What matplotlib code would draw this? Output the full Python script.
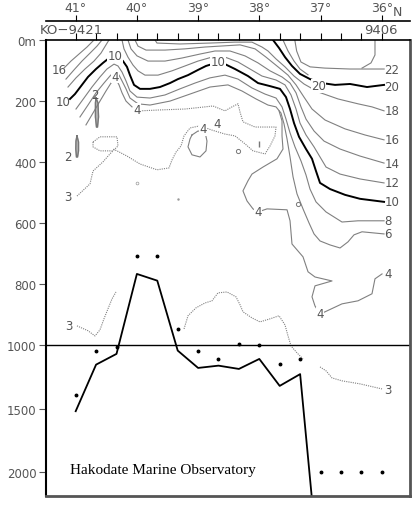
import matplotlib
matplotlib.use("Agg")
import matplotlib.pyplot as plt
import numpy as np

# stations KO-9421 ... KO-9406 (every 1/3 degree of latitude)
station_lat = [41.0, 40.667, 40.333, 40.0, 39.667, 39.333, 39.0, 38.667,
               38.333, 38.0, 37.667, 37.333, 37.0, 36.667, 36.333, 36.0]
obs_depth = [1393, 1046, 1009, 706, 706, 947, 1046, 1107,
             996, 999, 1146, 1107, 2000, 2000, 2000, 2000]
bottom_lat = station_lat[:13]
bottom_depth = [1520, 1152, 1067, 766, 788, 1041, 1178, 1160, 1186, 1107, 1320, 1227, 2930]

lat_ticks = [41, 40, 39, 38, 37, 36]
lat_labels = ['41°', '40°', '39°', '38°', '37°', '36°']
depth_ticks = [0, 200, 400, 600, 800, 1000, 1500, 2000]
depth_labels = ['0m', '200', '400', '600', '800', '1000', '1500', '2000']

# isotherms (lat, depth)
iso22 = [([37.42, 37.39, 37.32, 37.17, 36.93, 36.52, 36.19, 35.96],
          [0, 36, 72, 88, 92, 95, 95, 95]),
         ([36.11, 36.11, 36.175, 36.322], [0, 49, 75, 92]),
         ([37.613, 37.531, 37.433, 37.335, 37.204], [0, 36, 69, 95, 114])]
iso20 = [([37.776, 37.678, 37.580, 37.466, 37.335, 37.172, 36.976, 36.763, 36.518, 36.240, 35.962],
          [0, 26, 56, 85, 111, 128, 141, 147, 144, 154, 147])]
iso18 = [([39.704, 39.672, 39.296, 38.806, 38.397, 38.120, 37.956, 37.858, 37.727, 37.580,
           37.433, 37.270, 37.041, 36.714, 36.387, 36.159, 35.962],
          [0, 10, 13, 10, 7, 7, 23, 36, 62, 88, 118, 144, 170, 193, 209, 219, 232])]
iso16 = [([41.191, 41.077, 40.946, 40.815, 40.701], [92, 69, 46, 23, 0]),
         ([40.031, 39.982, 39.851, 39.541, 39.214, 38.887, 38.643, 38.315, 38.070, 37.891,
           37.694, 37.531, 37.400, 37.270, 37.139, 36.926, 36.600, 36.273, 35.962],
          [0, 20, 33, 33, 29, 23, 20, 16, 29, 56, 88, 115, 147, 187, 226, 262, 291, 311, 327])]
iso14 = [([41.159, 41.028, 40.897, 40.766, 40.652, 40.570], [128, 98, 69, 43, 20, 0]),
         ([40.146, 40.097, 39.998, 39.819, 39.541, 39.263, 38.969, 38.724, 38.479, 38.234, 38.021,
           37.825, 37.629, 37.498, 37.400, 37.319, 37.237, 37.106, 36.943, 36.681, 36.355, 35.962],
          [0, 29, 52, 69, 69, 59, 46, 36, 36, 52, 75, 101, 121, 141, 173, 219, 259, 298, 331,
           357, 380, 403])]
iso12 = [([41.126, 40.995, 40.848, 40.701, 40.587, 40.505, 40.456], [154, 124, 95, 69, 43, 16, 0]),
         ([40.243, 40.211, 40.146, 40.064, 39.982, 39.868, 39.655, 39.427, 39.214, 39.002, 38.773,
           38.561, 38.348, 38.152, 37.956, 37.727, 37.580, 37.482, 37.400, 37.335, 37.237, 37.106,
           37.008, 36.910, 36.681, 36.355, 35.962],
          [0, 29, 56, 82, 101, 115, 115, 101, 85, 69, 56, 56, 72, 95, 118, 131, 147, 180, 226, 272,
           311, 350, 383, 416, 439, 455, 468])]
iso10 = [([41.093, 41.012, 40.913, 40.799, 40.668, 40.554, 40.472, 40.374, 40.292, 40.227, 40.162,
           40.113, 40.047, 39.949, 39.786, 39.623, 39.459, 39.329, 39.165, 39.002, 38.871, 38.773,
           38.675, 38.561, 38.397, 38.185, 38.021, 37.825, 37.662, 37.564, 37.498, 37.433, 37.351,
           37.237, 37.139, 37.074, 37.008, 36.845, 36.600, 36.355, 35.962],
          [193, 177, 151, 121, 95, 75, 62, 52, 56, 69, 88, 115, 147, 160, 160, 154, 141, 128, 115,
           98, 85, 79, 72, 79, 95, 118, 141, 151, 160, 187, 226, 272, 317, 357, 389, 429, 468, 488,
           507, 520, 530])]
iso8 = [([40.995, 40.864, 40.734, 40.603, 40.489, 40.374, 40.309, 40.243, 40.178, 40.113, 39.998,
          39.786, 39.541, 39.296, 39.051, 38.806, 38.561, 38.348, 38.120, 37.907, 37.727, 37.629,
          37.564, 37.498, 37.417, 37.319, 37.237, 37.172, 37.074, 36.910, 36.649, 36.387, 35.962],
         [226, 190, 154, 121, 95, 79, 85, 105, 134, 167, 187, 190, 180, 160, 141, 124, 115, 128,
          157, 177, 190, 219, 259, 304, 350, 396, 442, 488, 530, 563, 596, 592, 592])]
iso6 = [([40.930, 40.799, 40.668, 40.538, 40.440, 40.358, 40.292, 40.243, 40.178, 40.113, 39.982,
          39.786, 39.459, 39.132, 38.806, 38.512, 38.283, 38.054, 37.858, 37.727, 37.646, 37.596,
          37.547, 37.498, 37.449, 37.384, 37.286, 37.188, 37.106, 37.008, 36.845, 36.681, 36.551,
          36.453, 36.322, 35.962],
         [252, 213, 173, 141, 118, 101, 115, 134, 160, 190, 209, 213, 200, 177, 154, 147, 167, 193,
          213, 219, 239, 275, 324, 383, 448, 504, 553, 599, 635, 658, 671, 681, 661, 638, 628, 635])]
iso4 = [([40.832, 40.717, 40.603, 40.505, 40.423, 40.342, 40.292, 40.243, 40.178, 40.080],
         [278, 239, 200, 167, 141, 128, 147, 173, 200, 219]),
        ([39.100, 39.002, 38.887, 38.855, 38.871, 38.969, 39.100, 39.165, 39.132, 39.100],
         [311, 298, 301, 331, 363, 383, 376, 350, 324, 311]),
        ([37.678, 37.629, 37.629, 37.613, 37.711, 37.940, 38.120, 38.185, 38.267, 38.201, 38.103,
          38.021, 37.874, 37.547, 37.498, 37.466, 37.286, 37.204, 37.090, 36.812, 37.090, 37.139,
          37.090, 37.008, 36.926, 36.649, 36.387, 36.159, 36.110, 35.995],
         [232, 265, 314, 357, 389, 416, 439, 461, 494, 527, 553, 563, 553, 556, 592, 668, 710, 759,
          776, 789, 805, 841, 871, 897, 890, 864, 854, 831, 782, 766])]
iso3 = [([39.949, 39.623, 39.214, 38.887, 38.757, 38.561, 38.446, 38.348, 38.315, 38.267, 38.070,
          37.727, 37.744, 37.825, 37.907, 38.103, 38.234, 38.397, 38.561, 38.773, 38.969, 39.132,
          39.230, 39.279, 39.361, 39.427, 39.476, 39.672, 39.949, 40.162, 40.325, 40.391],
         [232, 229, 226, 219, 216, 232, 219, 209, 236, 268, 285, 285, 314, 347, 373, 363, 340, 314,
          308, 295, 281, 288, 314, 347, 367, 393, 419, 425, 406, 380, 363, 357]),
        ([40.717, 40.603, 40.325, 40.309, 40.391, 40.603, 40.717, 40.717],
         [334, 317, 317, 347, 363, 363, 350, 334]),
        ([40.979, 40.766, 40.717, 40.554, 40.440, 40.391], [511, 471, 429, 399, 373, 363]),
        ([40.979, 40.799, 40.685, 40.603, 40.538, 40.472, 40.407, 40.342],
         [936, 952, 969, 949, 913, 880, 848, 825]),
        ([39.230, 39.165, 39.034, 38.887, 38.773, 38.675, 38.528, 38.381, 38.315, 38.267, 38.120,
          37.989, 37.825, 37.678, 37.580, 37.531, 37.482, 37.384, 37.286],
         [946, 903, 877, 861, 854, 828, 825, 841, 867, 890, 910, 923, 913, 903, 933, 969, 1004,
          1059, 1107]),
        ([37.008, 36.910, 36.812, 36.649, 36.355, 35.995], [1170, 1201, 1257, 1280, 1304, 1344])]
iso2 = [([40.668, 40.636, 40.627, 40.644, 40.660, 40.677, 40.677, 40.668],
         [190, 206, 252, 285, 285, 252, 206, 190]),
        ([40.979, 40.954, 40.954, 40.970, 40.987, 40.998, 40.995, 40.979],
         [314, 334, 363, 383, 383, 357, 331, 314])]

# isotherm labels: text, lat, depth, sits on the line
iso_labels = [('22', 35.832, 95, False), ('20', 35.832, 151, False), ('20', 37.03, 150, True),
              ('18', 35.832, 232, False), ('16', 35.832, 327, False), ('16', 41.273, 98, False),
              ('14', 35.832, 403, False), ('12', 35.832, 468, False), ('10', 35.832, 530, False),
              ('10', 41.208, 203, False), ('10', 40.36, 52, True), ('10', 38.675, 69, True),
              ('8', 35.897, 592, False), ('6', 35.897, 635, False), ('4', 35.897, 763, False),
              ('4', 37.008, 897, True), ('4', 38.021, 563, True), ('4', 38.69, 275, False),
              ('4', 38.92, 291, True), ('4', 39.998, 229, True), ('4', 40.358, 118, True),
              ('2', 40.685, 177, False), ('2', 41.126, 380, False), ('3', 41.126, 514, False),
              ('3', 41.11, 936, False), ('3', 35.897, 1352, False)]

K = 0.4144  # below 1000 m the depth axis is compressed


def fwd(d):
    d = np.asarray(d, dtype=float)
    return np.where(d <= 1000, d, 1000 + (d - 1000) * K)


def inv(v):
    v = np.asarray(v, dtype=float)
    return np.where(v <= 1000, v, 1000 + (v - 1000) / K)


fig = plt.figure(figsize=(4.18, 5.06), dpi=100)
ax = fig.add_axes([46 / 418, 9 / 506, 364 / 418, 456 / 506])
ax.set_yscale('function', functions=(fwd, inv))
ax.set_xlim(41.485, 35.538)
ax.set_ylim(2190, 0)

thin = dict(color='#808080', lw=0.8)
thick = dict(color='black', lw=1.4)
for segs in (iso22, iso18, iso16, iso14, iso12, iso8, iso6, iso4):
    for la, de in segs:
        ax.plot(la, de, **thin)
for segs in (iso20, iso10):
    for la, de in segs:
        ax.plot(la, de, **thick)
for la, de in iso3:
    ax.plot(la, de, color='#808080', lw=0.8, ls=(0, (1, 1)))
for la, de in iso2:
    ax.plot(la, de, color='#777777', lw=1.0)
    ax.fill(la, de, color='#bbbbbb')

# small closed features
ax.plot([38.348, 37.368], [363, 537], 'o', ms=3, mfc='none', mec='#777777', mew=0.7)
ax.plot([38.005], [340], marker='|', ms=4, color='#777777')
ax.plot([39.998], [468], 'o', ms=2, mfc='none', mec='#999999', mew=0.5)
ax.plot([39.329], [520], '.', ms=1.5, color='#999999')

for txt, la, de, on_line in iso_labels:
    kw = dict(facecolor='white', edgecolor='none', pad=0.2) if on_line else None
    ax.text(la, de, txt, fontsize=8.5, color='#555555', ha='center', va='center',
            bbox=kw, zorder=5)

# sea bottom and deepest observations
ax.axhline(1000, color='black', lw=1.0)
ax.plot(bottom_lat, bottom_depth, color='black', lw=1.3)
ax.plot(station_lat, obs_depth, 'o', ms=1.8, color='black')

ax.text(0.066, 0.059, 'Hakodate Marine Observatory', transform=ax.transAxes,
        family='Liberation Serif', fontsize=11, va='center', ha='left')

# axes
ax.set_yticks(depth_ticks)
ax.set_yticklabels(depth_labels)
ax.yaxis.set_minor_locator(plt.NullLocator())
ax.tick_params(axis='y', direction='out', length=5, width=0.8, color='#555555',
               labelsize=8.5, labelcolor='#555555', pad=2)
ax.set_xticks(station_lat)
ax.tick_params(axis='x', top=True, bottom=False, labeltop=False, labelbottom=False,
               direction='out', length=5, width=0.8, color='black')
ax.spines['left'].set_linewidth(1.5)
ax.spines['top'].set_linewidth(1.2)
for side in ('right', 'bottom'):
    ax.spines[side].set_linewidth(2.0)
    ax.spines[side].set_color('#555555')

sec = ax.secondary_xaxis(1 + 19 / 456)
sec.set_xticks(lat_ticks)
sec.set_xticklabels(lat_labels)
sec.tick_params(direction='out', length=4, width=0.8, labelsize=9, labelcolor='#555555', pad=1)
sec.spines['top'].set_linewidth(1.2)
fig.text(393 / 418, 1 - 12 / 506, 'N', fontsize=9, color='#555555', ha='left', va='center')
fig.text(40 / 418, 1 - 31 / 506, 'KO−9421', fontsize=9.5, color='#555555', ha='left', va='center')
fig.text(381 / 418, 1 - 31 / 506, '9406', fontsize=9.5, color='#555555', ha='center', va='center')

fig.savefig('out.png', dpi=100)
